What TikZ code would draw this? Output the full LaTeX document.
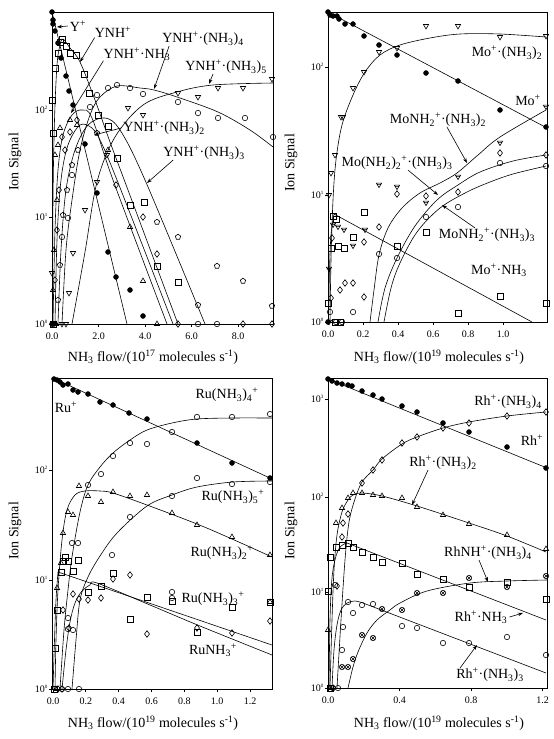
\documentclass[tikz,border=0pt]{standalone}
\usepackage{fontspec}
\setmainfont{Liberation Serif}
\usetikzlibrary{plotmarks,arrows.meta}

\newcommand{\amm}{NH\textsubscript{3}}
\newcommand{\pls}{\textsuperscript{+}}
\newcommand{\cdt}{·}
\newcommand{\flowlab}[1]{\amm{} flow/(10\textsuperscript{#1} molecules s\textsuperscript{-1})}
\newcommand{\decade}[1]{10\textsuperscript{\fontsize{5}{5}\selectfont #1}}

\pgfdeclareplotmark{tribar}{%
  \pgfpathmoveto{\pgfqpoint{-\pgfplotmarksize}{0.7\pgfplotmarksize}}%
  \pgfpathlineto{\pgfqpoint{\pgfplotmarksize}{0.7\pgfplotmarksize}}%
  \pgfpathlineto{\pgfqpoint{0pt}{-\pgfplotmarksize}}%
  \pgfpathclose
  \pgfpathmoveto{\pgfqpoint{-0.8\pgfplotmarksize}{0.25\pgfplotmarksize}}%
  \pgfpathlineto{\pgfqpoint{0.8\pgfplotmarksize}{0.25\pgfplotmarksize}}%
  \pgfusepathqstroke}

\tikzset{
  frame/.style={line width=0.9pt},
  fit/.style={line width=0.6pt},
  lab/.style={font=\fontsize{14}{16}\selectfont, inner sep=0pt},
  ticklab/.style={font=\fontsize{10}{12}\selectfont, inner sep=0pt},
  ptr/.style={line width=0.6pt, -{Stealth[length=5pt,width=3.5pt]}},
  dots/.style={only marks, mark=*, mark size=2.5pt},
  sqs/.style={only marks, mark=square, mark size=2.8pt, mark options={line width=0.6pt}},
  tris/.style={only marks, mark=triangle, mark size=3pt, mark options={line width=0.6pt}},
  dtris/.style={only marks, mark=triangle, mark size=3pt, mark options={rotate=180, line width=0.6pt}},
  dias/.style={only marks, mark=diamond, mark size=3.3pt, mark options={line width=0.6pt}},
  circs/.style={only marks, mark=o, mark size=2.7pt, mark options={line width=0.6pt}},
  pents/.style={only marks, mark=pentagon, mark size=2.8pt, mark options={line width=0.6pt}},
  bars/.style={only marks, mark=tribar, mark size=2.6pt, mark options={line width=0.6pt}},
  crosses/.style={only marks, mark=otimes, mark size=2.7pt, mark options={line width=0.6pt}}
}

\begin{document}
\begin{tikzpicture}[x=1pt, y=-1pt]
\useasboundingbox (0,0) rectangle (554,739);

% Y+
\draw[frame] (52,12) rectangle (273,324);
\foreach \y/\e in {110/2,217/1,324/0} {
  \draw[frame] (49,\y) -- (52,\y);
  \node[ticklab, anchor=east] (tly\e) at (48,\y) {\decade{\e}};
}
\foreach \x/\t [count=\i] in {52/0.0,98.5/2.0,145/4.0,191.5/6.0,238/8.0} {
  \draw[frame] (\x,324) -- (\x,327);
  \node[ticklab, anchor=north] (tlx\i) at (\x,333) {\t};
}
\node[lab] (tlxlab) at (153,357) {\flowlab{17}};
\node[lab, rotate=90] (tlylab) at (15,162) {Ion Signal};
\begin{scope}
  \clip (52,12) rectangle (273,324);
  \draw[fit] (52,12) -- (127,324);
  \draw[fit] plot[smooth, tension=0.55] coordinates {(52.5,324) (53,200) (54.5,120) (57,65) (60,45) (63,39) (70,48) (80,62) (95,100) (110,142) (125,182) (150,249) (178,324)};
  \draw[fit] plot[smooth, tension=0.55] coordinates {(53,324) (55,230) (58,170) (63,135) (72,115) (82,110) (92,118) (113,180) (167,324)};
  \draw[fit] plot[smooth, tension=0.55] coordinates {(55,324) (57,240) (61,180) (68,145) (80,125) (92,128) (100,140) (117,180) (173,324)};
  \draw[fit] plot[smooth, tension=0.55] coordinates {(58,324) (61,250) (66,190) (75,150) (88,125) (105,118) (120,130) (145,180) (205,324)};
  \draw[fit] plot[smooth, tension=0.55] coordinates {(62,324) (66,250) (72,200) (80,150) (90,115) (100,97) (117,86) (140,88) (154,90) (177,97) (218,112) (250,130) (273,147)};
  \draw[fit] plot[smooth, tension=0.55] coordinates {(72,324) (85,252) (97,182) (115,137) (143,105) (177,92) (213,85) (273,83)};
\end{scope}
\draw[dots] plot coordinates {(52,12) (53,20) (53,24) (55,31) (58,43) (61,58) (66,76) (69,91) (73,105) (85,144) (97,193) (108,252) (116,277) (130,290) (143,316) (52,324) (54,324)};
\draw[sqs] plot coordinates {(52,100) (53,133) (55,68) (58,53) (60,42) (62,39) (66,46) (70,53) (76,55) (84,74) (89,93) (98,115) (108,126) (117,158) (130,205) (144,202) (157,266) (178,282) (53,324)};
\draw[tris] plot coordinates {(60,128) (58,145) (55,155) (70,120) (77,125) (53,290) (54,250) (57,200) (108,150) (130,227) (143,281) (157,324) (56,324)};
\draw[dias] plot coordinates {(62,137) (65,150) (70,132) (77,120) (55,280) (57,230) (59,190) (116,185) (143,217) (157,254) (178,324) (243,324) (272,324)};
\draw[pents] plot coordinates {(58,300) (60,265) (63,215) (67,190) (72,165) (78,150) (97,133) (157,222) (178,237) (217,266) (243,281) (198,305) (272,306)};
\draw[circs] plot coordinates {(90,107) (97,95) (108,88) (117,85) (130,88) (143,94) (178,102) (198,113) (218,118) (245,118) (273,137) (72,175) (68,218) (62,237) (198,324) (217,324)};
\draw[dtris] plot coordinates {(69,293) (73,253) (85,210) (97,182) (107,155) (128,108) (143,115) (178,93) (198,97) (218,88) (243,88) (272,79) (52,273) (62,324) (66,324)};
\node[lab] (yp) at (78,26) {Y\pls};
\node[lab] (ynh) at (113,32) {YNH\pls};
\node[lab] (ynh1) at (137,54) {YNH\pls\cdt\amm};
\node[lab] (ynh4) at (203,39) {YNH\pls\cdt(\amm)\textsubscript{4}};
\node[lab] (ynh5) at (226,67) {YNH\pls\cdt(\amm)\textsubscript{5}};
\node[lab] (ynh2) at (164,128) {YNH\pls\cdt(\amm)\textsubscript{2}};
\node[lab] (ynh3) at (204,153) {YNH\pls\cdt(\amm)\textsubscript{3}};
\coordinate (yp-tip) at (57,27);
\coordinate (ynh-tip) at (80,62);
\coordinate (ynh1-tip) at (71,113);
\coordinate (ynh4-tip) at (154,89);
\coordinate (ynh5-tip) at (209,84);
\coordinate (ynh2-tip) at (94,135);
\coordinate (ynh3-tip) at (147,183);
\draw[ptr] ([xshift=-2pt]yp.west) -- (yp-tip);
\draw[ptr] (ynh.south west) -- (ynh-tip);
\draw[ptr] (ynh1.south west) -- (ynh1-tip);
\draw[ptr] ([xshift=7pt]ynh4.south west) -- (ynh4-tip);
\draw[ptr] ([xshift=-13pt]ynh5.south) -- (ynh5-tip);
\draw[ptr] ([xshift=-2pt]ynh2.west) -- (ynh2-tip);
\draw[ptr] ([xshift=10pt]ynh3.south west) -- (ynh3-tip);

% Mo+
\draw[frame] (328,12) rectangle (547,322);
\foreach \y/\e in {67/2,195/1,322/0} {
  \draw[frame] (325,\y) -- (328,\y);
  \node[ticklab, anchor=east] (try\e) at (324,\y) {\decade{\e}};
}
\foreach \x/\t [count=\i] in {328/0.0,363/0.2,398/0.4,433/0.6,468/0.8,503/1.0} {
  \draw[frame] (\x,322) -- (\x,325);
  \node[ticklab, anchor=north] (trx\i) at (\x,331) {\t};
}
\node[lab] (trxlab) at (439,357) {\flowlab{19}};
\node[lab, rotate=90] (trylab) at (291,163) {Ion Signal};
\begin{scope}
  \clip (328,12) rectangle (547,322);
  \draw[fit] (328,12) -- (547,128);
  \draw[fit] plot[smooth, tension=0.55] coordinates {(330,322) (331,260) (333,200) (336,160) (342,125) (353,95) (365,72) (380,55) (400,45) (430,38) (460,34) (500,34) (546,37)};
  \draw[fit] plot[smooth, tension=0.55] coordinates {(370,322) (374,290) (379,255) (388,228) (402,208) (420,193) (440,183) (457,173) (478,155) (500,137) (546,110)};
  \draw[fit] plot[smooth, tension=0.55] coordinates {(378,322) (385,288) (397,258) (415,226) (437,200) (458,185) (480,172) (513,161) (546,155)};
  \draw[fit] plot[smooth, tension=0.55] coordinates {(384,322) (391,288) (400,263) (417,232) (440,208) (467,192) (490,182) (513,174) (546,166)};
  \draw[fit] plot[smooth, tension=0.55] coordinates {(328.5,322) (329.5,270) (331,235) (334,214)} -- (532,322);
\end{scope}
\draw[dots] plot coordinates {(328,12) (330,15) (333,16) (337,16) (339,19) (345,24) (353,24) (364,36) (379,45) (397,55) (426,73) (458,81) (500,110) (546,127) (328,322)};
\draw[dtris] plot coordinates {(329,195) (331,173) (335,155) (341,117) (343,117) (353,88) (364,72) (379,52) (397,48) (426,26) (458,26) (500,37) (546,36)};
\draw[bars] plot coordinates {(546,107) (500,143) (458,177) (379,185) (397,187) (426,203) (333,225) (338,227) (344,230) (365,230) (353,246) (329,269) (329,322)};
\draw[dias] plot coordinates {(340,290) (345,283) (353,283) (364,297) (364,242) (379,227) (397,194) (426,196) (458,192) (500,153) (546,155) (332,238) (331,298)};
\draw[circs] plot coordinates {(330,312) (342,322) (353,312) (379,254) (397,258) (426,217) (458,207) (500,163) (546,166) (336,322)};
\draw[sqs] plot coordinates {(333,216) (336,219) (364,212) (353,237) (397,246) (426,232) (458,313) (500,296) (546,303) (344,248) (338,246) (331,248) (328,303) (335,322) (340,322)};
\node[lab] (mo2) at (507,53) {Mo\pls\cdt(\amm)\textsubscript{2}};
\node[lab] (mo) at (528,100) {Mo\pls};
\node[lab] (monh22) at (438,120) {MoNH\textsubscript{2}\pls\cdt(\amm)\textsubscript{2}};
\node[lab] (mo23) at (397,163) {Mo(NH\textsubscript{2})\textsubscript{2}\pls\cdt(\amm)\textsubscript{3}};
\node[lab] (monh23) at (487,235) {MoNH\textsubscript{2}\pls\cdt(\amm)\textsubscript{3}};
\node[lab] (mo1) at (499,270) {Mo\pls\cdt\amm};
\coordinate (monh22-tip) at (467,163);
\coordinate (mo23-tip) at (438,195);
\coordinate (monh23-tip) at (442,205);
\draw[ptr] ([xshift=9pt]monh22.south) -- (monh22-tip);
\draw[ptr] ([xshift=11pt]mo23.south) -- (mo23-tip);
\draw[ptr] ([xshift=-12pt]monh23.north) -- (monh23-tip);

% Ru+
\draw[frame] (52,378) rectangle (272,689);
\foreach \y/\e in {470/2,580/1,689/0} {
  \draw[frame] (49,\y) -- (52,\y);
  \node[ticklab, anchor=east] (bly\e) at (48,\y) {\decade{\e}};
}
\foreach \x/\t [count=\i] in {53/0.0,85.8/0.2,118.7/0.4,151.5/0.6,184.3/0.8,217.2/1.0,250/1.2} {
  \draw[frame] (\x,689) -- (\x,692);
  \node[ticklab, anchor=north] (blx\i) at (\x,698) {\t};
}
\node[lab] (blxlab) at (153,723) {\flowlab{19}};
\node[lab, rotate=90] (blylab) at (15,531) {Ion Signal};
\begin{scope}
  \clip (52,378) rectangle (272,689);
  \draw[fit] (53,378) -- (272,479);
  \draw[fit] plot[smooth, tension=0.55] coordinates {(60,689) (64,630) (68,590) (72,557) (80,512) (88,485) (100,467) (113,453) (130,440) (147,430) (172,423) (197,419) (232,418) (272,418)};
  \draw[fit] plot[smooth, tension=0.55] coordinates {(72,689) (76,640) (80,600) (88,577) (100,556) (117,533) (147,506) (172,495) (197,487) (233,482) (272,481)};
  \draw[fit] plot[smooth, tension=0.55] coordinates {(55,689) (56,640) (58,590) (62,540) (67,510) (75,495) (85,491) (100,491) (113,493) (147,505) (197,524) (232,539) (272,557)};
  \draw[fit] plot[smooth, tension=0.55] coordinates {(53,689) (54.5,640) (56,600) (58,572)} -- (272,645);
  \draw[fit] plot[smooth, tension=0.55] coordinates {(62,689) (66,650) (70,622) (75,603) (82,591) (90,585) (97,583) (150,605) (200,626) (272,655)};
\end{scope}
\draw[dots] plot coordinates {(54,379) (57,380) (60,382) (63,385) (68,384) (73,390) (78,392) (88,394) (100,402) (113,405) (129,413) (147,419) (197,443) (232,463) (270,478)};
\draw[circs] plot coordinates {(88,485) (101,474) (113,456) (130,443) (147,444) (172,432) (197,417) (232,417) (270,414) (172,496) (197,478) (232,484) (270,482) (130,517) (112,555) (72,543) (78,543) (73,630) (68,629) (68,618) (172,592) (172,598) (79,689) (68,689) (62,689)};
\draw[tris] plot coordinates {(79,486) (88,496) (101,502) (113,492) (130,496) (147,495) (172,513) (197,525) (232,537) (270,555) (63,533) (68,512) (73,515) (61,563) (57,588) (270,602) (56,689)};
\draw[sqs] plot coordinates {(55,648) (57,610) (61,572) (63,561) (65,557) (68,561) (78,560) (73,571) (88,592) (101,586) (113,573) (130,619) (147,597) (172,601) (232,607) (270,602) (197,632) (54,689)};
\draw[dias] plot coordinates {(63,610) (69,628) (73,594) (79,599) (88,600) (101,598) (113,579) (130,575) (147,634) (197,628) (232,633) (270,621) (58,689) (62,689)};
\node[lab] (ru) at (66,407) {Ru\pls};
\node[lab] (ru4) at (227,395) {Ru(\amm)\textsubscript{4}\pls};
\node[lab] (ru5) at (233,497) {Ru(\amm)\textsubscript{5}\pls};
\node[lab] (ru2) at (222,553) {Ru(\amm)\textsubscript{2}\pls};
\node[lab] (ru3) at (213,599) {Ru(\amm)\textsubscript{3}\pls};
\node[lab] (ru1) at (213,650) {Ru\amm\pls};

% Rh+
\draw[frame] (328,378) rectangle (547,688);
\foreach \y/\e in {399/3,497/2,592/1,688/0} {
  \draw[frame] (325,\y) -- (328,\y);
  \node[ticklab, anchor=east] (bry\e) at (324,\y) {\decade{\e}};
}
\foreach \x/\t [count=\i] in {328/0.0,399.5/0.4,471/0.8,542.5/1.2} {
  \draw[frame] (\x,688) -- (\x,691);
  \node[ticklab, anchor=north] (brx\i) at (\x,697) {\t};
}
\node[lab] (brxlab) at (439,723) {\flowlab{19}};
\node[lab, rotate=90] (brylab) at (291,531) {Ion Signal};
\begin{scope}
  \clip (328,378) rectangle (547,688);
  \draw[fit] (328,379) -- (547,468);
  \draw[fit] plot[smooth, tension=0.55] coordinates {(337,688) (341,620) (345,560) (349,522) (355,499) (362,482) (373,470) (382,459) (402,444) (417,437) (443,428) (469,422) (507,416) (546,412)};
  \draw[fit] plot[smooth, tension=0.55] coordinates {(330,688) (332,620) (334,570) (337,535) (342,512) (348,500) (353,495) (362,493) (382,496) (417,506) (469,523) (507,536) (546,552)};
  \draw[fit] plot[smooth, tension=0.55] coordinates {(329,688) (330,620) (332,578) (336,556) (341,546) (347,543)} -- (546,620);
  \draw[fit] plot[smooth, tension=0.55] coordinates {(348,688) (353,667) (358,652) (367,633) (377,620) (390,610) (400,603) (427,591) (470,583) (507,581) (547,580)};
  \draw[fit] plot[smooth, tension=0.55] coordinates {(332,688) (334,650) (337,625) (341,610) (347,603) (355,601) (363,603)} -- (546,673);
\end{scope}
\draw[dots] plot coordinates {(328,379) (332,381) (337,383) (342,384) (348,385) (352,386) (362,391) (373,395) (382,399) (402,406) (417,412) (443,423) (469,432) (507,447) (546,468)};
\draw[dias] plot coordinates {(546,412) (507,416) (469,423) (443,428) (417,437) (402,443) (382,460) (373,470) (362,483) (348,514) (343,523) (342,537) (337,586) (333,688)};
\draw[tris] plot coordinates {(336,523) (342,508) (348,498) (353,493) (362,493) (373,495) (382,496) (402,498) (417,507) (443,515) (469,524) (507,535) (546,549) (328,630) (330,688)};
\draw[sqs] plot coordinates {(330,557) (336,547) (342,545) (348,543) (353,547) (362,552) (373,557) (382,562) (402,563) (417,574) (443,579) (469,587) (507,582) (546,599) (328,591) (330,688)};
\draw[crosses] plot coordinates {(469,578) (507,587) (546,576) (443,593) (417,593) (402,610) (382,609) (373,638) (362,635) (353,659) (348,667) (342,667)};
\draw[circs] plot coordinates {(335,585) (342,650) (343,627) (348,602) (353,613) (362,605) (373,604) (402,626) (417,628) (443,643) (469,643) (507,637) (546,655) (333,688) (338,688)};
\node[lab] (rh4) at (508,402) {Rh\pls\cdt(\amm)\textsubscript{4}};
\node[lab] (rh) at (532,440) {Rh\pls};
\node[lab] (rh2) at (443,463) {Rh\pls\cdt(\amm)\textsubscript{2}};
\node[lab] (rhnh4) at (488,553) {RhNH\pls\cdt(\amm)\textsubscript{4}};
\node[lab] (rh1) at (481,617) {Rh\pls\cdt\amm};
\node[lab] (rh3) at (490,675) {Rh\pls\cdt(\amm)\textsubscript{3}};
\coordinate (rh2-tip) at (412,505);
\coordinate (rhnh4-tip) at (488,582);
\coordinate (rh1-tip) at (523,613);
\coordinate (rh3-tip) at (477,645);
\draw[ptr] ([xshift=-15pt]rh2.south) -- (rh2-tip);
\draw[ptr] ([xshift=-9pt]rhnh4.south) -- (rhnh4-tip);
\draw[ptr] ([xshift=2pt]rh1.east) -- (rh1-tip);
\draw[ptr] ([xshift=4pt]rh3.north west) -- (rh3-tip);
\end{tikzpicture}
\end{document}
